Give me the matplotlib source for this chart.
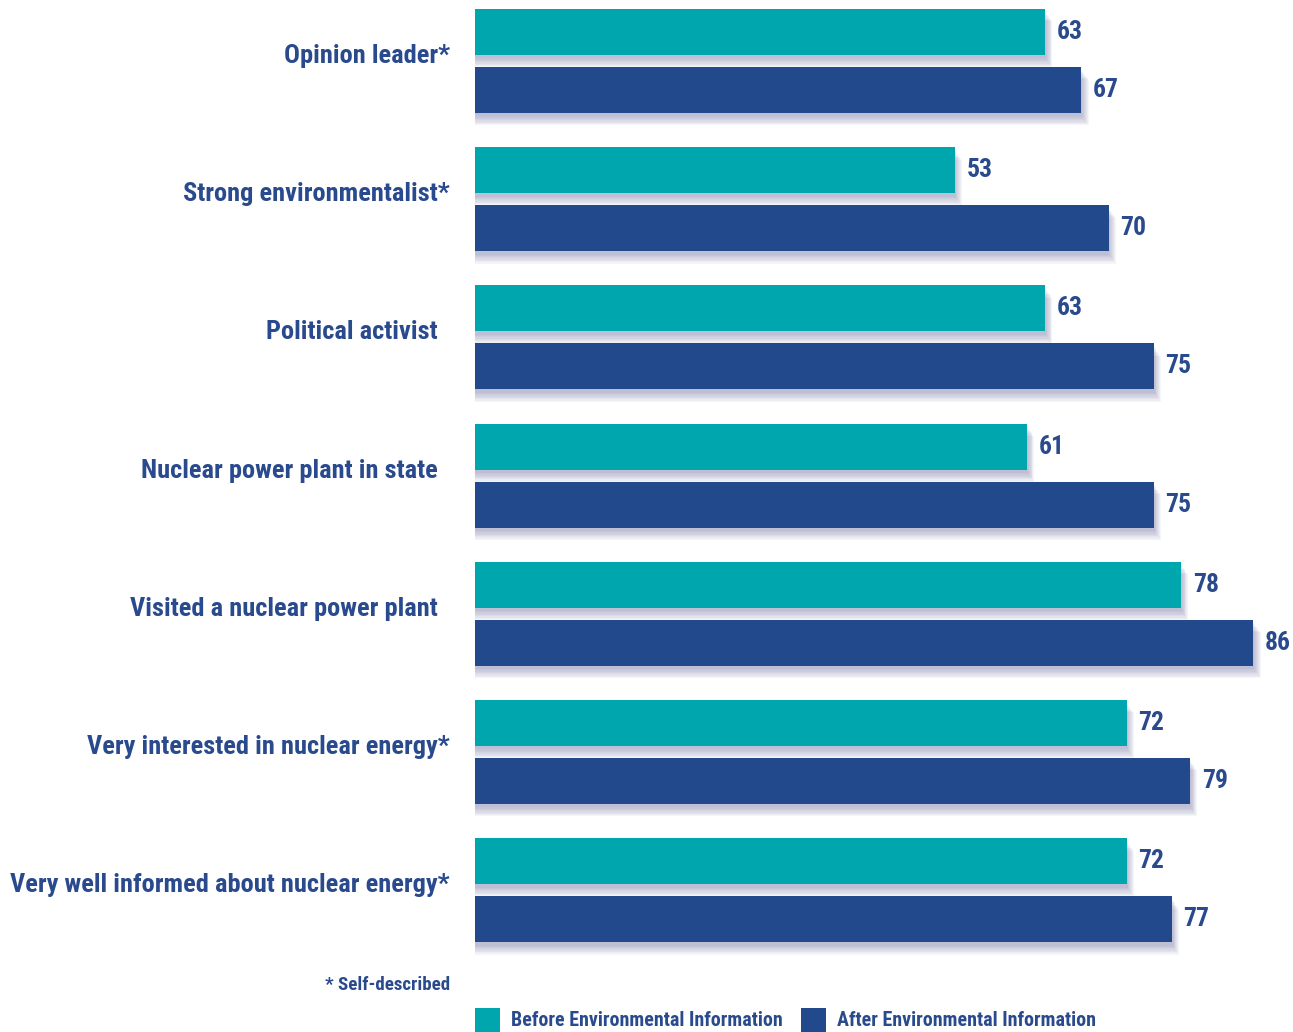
import matplotlib.pyplot as plt
from matplotlib.patches import Rectangle
from matplotlib import font_manager
import numpy as np

categories = [
    "Opinion leader*",
    "Strong environmentalist*",
    "Political activist",
    "Nuclear power plant in state",
    "Visited a nuclear power plant",
    "Very interested in nuclear energy*",
    "Very well informed about nuclear energy*",
]
before = [63, 53, 63, 61, 78, 72, 72]
after = [67, 70, 75, 75, 86, 79, 77]
series_names = ["Before Environmental Information", "After Environmental Information"]
footnote = "* Self-described"

TEAL = "#00A6AE"
BLUE = "#23498D"
TEXT = "#2A4A8E"
SHADOW = "#4a4a8a"

# pick a condensed face if there is one
fonts = font_manager.fontManager.ttflist
names = {f.name for f in fonts}
fam = "DejaVu Sans"
for cand in ["Liberation Sans Narrow", "Roboto Condensed", "Open Sans Condensed",
             "Noto Sans Condensed", "DejaVu Sans Condensed"]:
    if cand in names:
        fam = cand
        break
else:
    for cand in ["Roboto", "Lato", "Noto Sans"]:
        if cand in names:
            fam = cand
            break
plt.rcParams["font.family"] = [fam, "DejaVu Sans"]
plt.rcParams["font.weight"] = "bold"

W, H = 1293, 1032
fig = plt.figure(figsize=(W / 100, H / 100), dpi=100)
ax = fig.add_axes([475 / W, 0, 1 - 475 / W, 1])

pitch = 138.2
x_scale = 9.05  # px per unit
ax.set_xlim(0, (W - 475) / x_scale)
ax.set_ylim((H - 61) / pitch, -61 / pitch)
ax.axis("off")

y = np.arange(len(categories))
h = 46 / pitch
off = 29 / pitch

# soft shadows
for k in range(1, 9):
    dy = k * 1.3 / pitch
    for vals, sign in ((before, -1), (after, 1)):
        ax.barh(y + sign * off + dy + 2 / pitch, np.array(vals) + k * 0.1, height=h,
                color=SHADOW, alpha=0.05, linewidth=0, zorder=1)

ax.barh(y - off, before, height=h, color=TEAL, linewidth=0, zorder=3)
ax.barh(y + off, after, height=h, color=BLUE, linewidth=0, zorder=3)

renderer = fig.canvas.get_renderer()


def fit(texts, target_px, max_size):
    """shrink a group of texts so the widest one is target_px wide"""
    widest = max(t.get_window_extent(renderer).width for t in texts)
    size = min(max_size, texts[0].get_fontsize() * target_px / widest)
    for t in texts:
        t.set_fontsize(size)


vals_txt = []
for i in range(len(categories)):
    vals_txt.append(ax.text(before[i] + 1.3, y[i] - off, str(before[i]), va="center",
                            ha="left", fontsize=20, color=TEXT, fontweight="bold"))
    vals_txt.append(ax.text(after[i] + 1.3, y[i] + off, str(after[i]), va="center",
                            ha="left", fontsize=20, color=TEXT, fontweight="bold"))
fit(vals_txt, 26, 20)

cat_txt = []
for i, lab in enumerate(categories):
    xr = 450 if lab.endswith("*") else 438
    ypix = 61 + pitch * i - 5
    cat_txt.append(fig.text(xr / W, 1 - ypix / H, lab, ha="right", va="center", fontsize=21,
                            color=TEXT, fontweight="bold"))
fit(cat_txt, 440, 21)

foot = fig.text(450 / W, 1 - 985 / H, footnote, ha="right", va="center",
                fontsize=16, color=TEXT, fontweight="bold")
fit([foot], 125, 16)

# legend
leg_txt = []
for xs, xt, col, name in ((475, 511, TEAL, series_names[0]), (801, 837, BLUE, series_names[1])):
    fig.patches.append(Rectangle((xs / W, 0), 25 / W, 24 / H, transform=fig.transFigure,
                                 color=col, linewidth=0))
    leg_txt.append(fig.text(xt / W, 1 - 1021 / H, name, ha="left", va="center", fontsize=17,
                            color=TEXT, fontweight="bold"))
fit(leg_txt, 271, 17)

fig.savefig("out.png", dpi=100)
